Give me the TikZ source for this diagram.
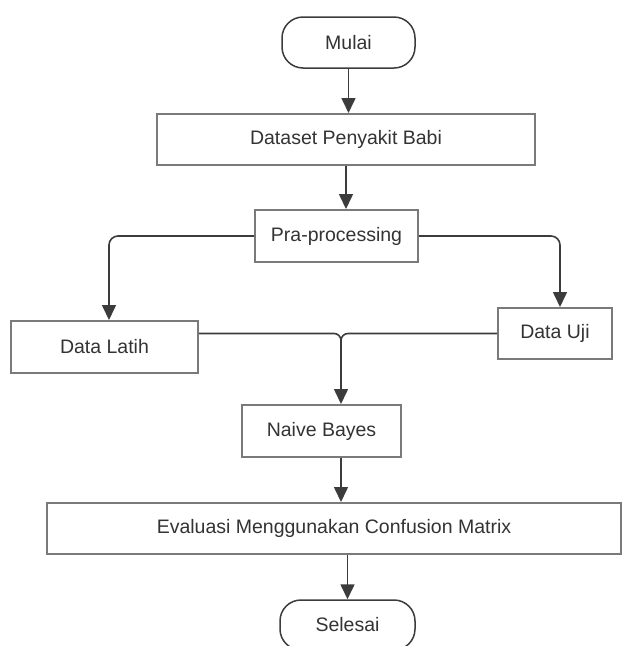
\documentclass[tikz,border=0pt]{standalone}
\usepackage{fontspec}
\setmainfont{Liberation Sans}
\usetikzlibrary{arrows.meta,calc}
\definecolor{boxc}{HTML}{7A7A7A}
\definecolor{linec}{HTML}{3C3C3C}
\definecolor{txtc}{HTML}{333333}
\tikzset{
  procbox/.style={draw=boxc, line width=2pt, fill=white, text=txtc, font=\fontsize{19.5}{22}\selectfont, inner sep=0pt},
  termbox/.style={procbox, draw=linec, line width=1.5pt, rounded corners=21pt},
  conn/.style={draw=linec, line width=1.6pt},
  arr/.style={conn, -{Triangle[width=14pt,length=15pt]}}
}
\begin{document}
\begin{tikzpicture}[x=1pt,y=-1pt]
\useasboundingbox (0,0) rectangle (622,646);
\clip (0,0) rectangle (622,646);
\node[termbox, minimum width=133pt, minimum height=51pt] (mulai) at (348.5,42.5) {Mulai};
\node[procbox, minimum width=378pt, minimum height=51pt] (dataset) at (346,139.5) {Dataset Penyakit Babi};
\node[procbox, minimum width=163pt, minimum height=52pt] (pra) at (336.5,236) {Pra-processing};
\node[procbox, minimum width=187pt, minimum height=52pt] (latih) at (104.5,347) {Data Latih};
\node[procbox, minimum width=114pt, minimum height=51pt] (uji) at (555,333.5) {Data Uji};
\node[procbox, minimum width=159pt, minimum height=52pt] (nb) at (321.5,431) {Naive Bayes};
\node[procbox, minimum width=574pt, minimum height=51pt] (eval) at (334,528.5) {Evaluasi Menggunakan Confusion Matrix};
\node[termbox, minimum width=135pt, minimum height=50pt] (selesai) at (347.5,625) {Selesai};
\coordinate (j) at (341,333.5);
\coordinate (lt) at (109,236);
\coordinate (rt) at (560,236);
% connectors
\draw[arr] (mulai.south) -- (mulai.south |- dataset.north);
\draw[arr] (dataset.south) -- (dataset.south |- pra.north);
\draw[arr, rounded corners=9pt] (pra.west) -- (lt) -- (lt |- latih.north);
\draw[arr, rounded corners=9pt] (pra.east) -- (rt) -- (rt |- uji.north);
\draw[conn, rounded corners=7pt] (latih.east |- uji.west) -- (j) -- ($(j)+(0,30)$);
\draw[arr, rounded corners=7pt] (uji.west) -- (j) -- (j |- nb.north);
\draw[arr] (j |- nb.south) -- (j |- eval.north);
\draw[arr] (selesai.north |- eval.south) -- (selesai.north);
\end{tikzpicture}
\end{document}
